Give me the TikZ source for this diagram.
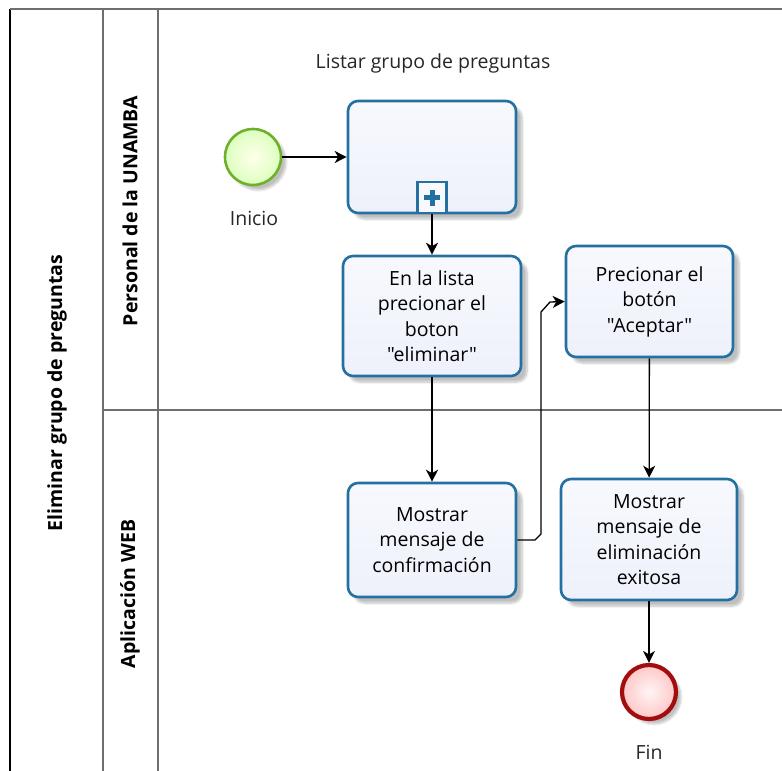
\documentclass[tikz,border=0pt]{standalone}
\usepackage{fontspec}
\setmainfont{Open Sans}[Ligatures=TeXOff]
\usetikzlibrary{arrows.meta,shadows.blur}
\definecolor{taskborder}{HTML}{2470A0}
\definecolor{taskfill}{HTML}{EEF1FB}
\definecolor{taskfilltop}{HTML}{F8F9FE}
\definecolor{startborder}{HTML}{6FB02A}
\definecolor{endborder}{HTML}{A20E0E}
\definecolor{laneline}{HTML}{6E6E6E}
\newcommand{\dq}{\symbol{34}}
\tikzset{
  task/.style={draw=taskborder, line width=2.6pt, rounded corners=10pt,
    top color=taskfilltop, bottom color=taskfill, align=center,
    font=\fontsize{19.5}{25.5}\selectfont, inner sep=0pt,
    blur shadow={shadow xshift=6pt, shadow yshift=-6pt, shadow blur steps=8, shadow opacity=25}},
  startev/.style={circle, draw=startborder, line width=2.6pt, minimum size=56pt, inner sep=0pt,
    inner color=yellow!8, outer color=green!55!yellow!25,
    blur shadow={shadow xshift=5pt, shadow yshift=-5pt, shadow blur steps=8, shadow opacity=25}},
  endev/.style={circle, draw=endborder, line width=4.2pt, minimum size=54pt, inner sep=0pt,
    inner color=red!4, outer color=red!22,
    blur shadow={shadow xshift=5pt, shadow yshift=-5pt, shadow blur steps=8, shadow opacity=25}},
  flow/.style={draw=black, line width=1.3pt, -{Stealth[length=12pt,width=12pt,inset=3.5pt]}},
  lane/.style={draw=laneline, line width=1.6pt},
  lbl/.style={font=\fontsize{19.5}{22}\selectfont, text=black!85},
  lanelbl/.style={font=\bfseries\fontsize{19.5}{22}\selectfont, rotate=90}
}
\begin{document}
\begin{tikzpicture}[x=1pt,y=-1pt]
\useasboundingbox (0,0) rectangle (782,771);
% pool and lanes
\draw[draw=black, line width=2pt] (10,9) -- (10,775);
\draw[lane] (10,9) -- (786,9);
\draw[lane] (103,9) -- (103,775);
\draw[lane] (158,9) -- (158,775);
\draw[lane] (103,410) -- (786,410);
\node[lanelbl] (pool) at (57,393) {Eliminar grupo de preguntas};
\node[lanelbl] (lane1) at (130,211) {Personal de la UNAMBA};
\node[lanelbl] (lane2) at (130,594) {Aplicación WEB};
% events
\node[startev] (start) at (253,157) {};
\node[lbl] (startlbl) at (254,218) {Inicio};
\node[endev] (end) at (649,692) {};
\node[lbl] (endlbl) at (649,752) {Fin};
% subprocess
\node[task, minimum width=168pt, minimum height=112pt] (sub) at (432,157) {};
\node[lbl] (sublbl) at (433,63) {Listar grupo de preguntas};
\node[draw=taskborder, line width=2.4pt, fill=white!60!taskfill, minimum width=29pt, minimum height=31pt, inner sep=0pt, anchor=south] (plus) at (sub.south) {};
\fill[taskborder] ([xshift=-8pt,yshift=-2.5pt]plus.center) rectangle ([xshift=8pt,yshift=2.5pt]plus.center);
\fill[taskborder] ([xshift=-2.5pt,yshift=-8pt]plus.center) rectangle ([xshift=2.5pt,yshift=8pt]plus.center);
% tasks
\node[task, minimum width=178pt, minimum height=120pt] (t1) at (432,316) {En la lista\\precionar el\\boton\\\dq eliminar\dq};
\node[task, minimum width=167pt, minimum height=111pt] (t2) at (649.5,301.5) {Precionar el\\botón\\\dq Aceptar\dq};
\node[task, minimum width=168pt, minimum height=114pt] (t3) at (432,540) {Mostrar\\mensaje de\\confirmación};
\node[task, minimum width=176pt, minimum height=121pt] (t4) at (649,539.5) {Mostrar\\mensaje de\\eliminación\\exitosa};
% flows
\draw[flow] (start) -- (sub);
\draw[flow] (sub.south) -- (t1);
\draw[flow] (t1) -- (t3);
\coordinate (b1) at (535,540);
\coordinate (b2) at (541,534);
\coordinate (b3) at (541,312);
\coordinate (b4) at (550,302);
\draw[flow] (t3.east) -- (b1) -- (b2) -- (b3) -- (b4) -- (t2.west);
\draw[flow] (t2) -- (t4);
\draw[flow] (t4) -- (end);
\end{tikzpicture}
\end{document}
